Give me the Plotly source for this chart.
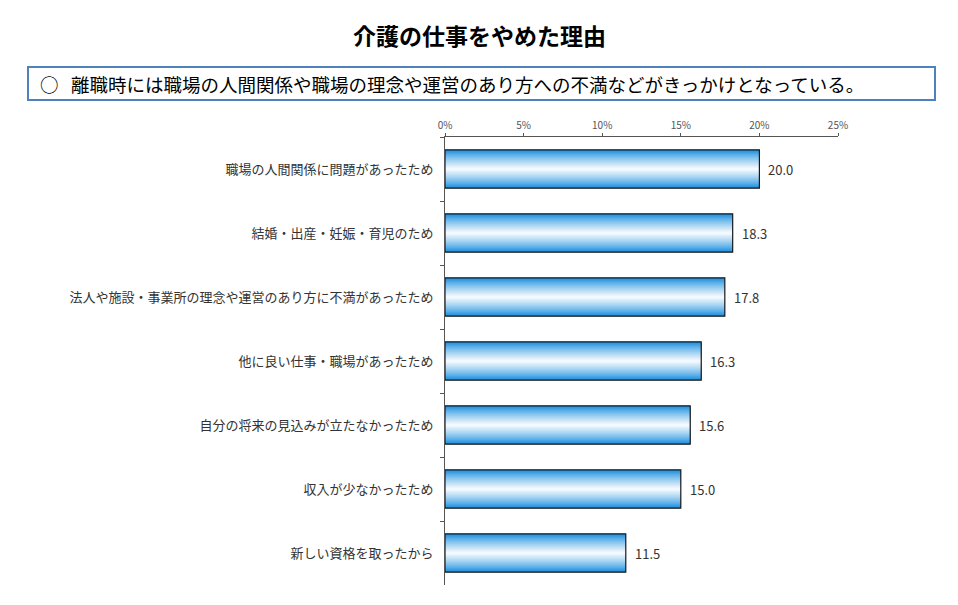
import plotly.graph_objects as go

categories = [
    "職場の人間関係に問題があったため",
    "結婚・出産・妊娠・育児のため",
    "法人や施設・事業所の理念や運営のあり方に不満があったため",
    "他に良い仕事・職場があったため",
    "自分の将来の見込みが立たなかったため",
    "収入が少なかったため",
    "新しい資格を取ったから",
]
values = [20.0, 18.3, 17.8, 16.3, 15.6, 15.0, 11.5]
x_ticks = [0, 5, 10, 15, 20, 25]
x_tick_labels = ["0%", "5%", "10%", "15%", "20%", "25%"]

title_text = "介護の仕事をやめた理由"
bullet_text = "○"
box_text = "離職時には職場の人間関係や職場の理念や運営のあり方への不満などがきっかけとなっている。"

OFF = 8  # page body margin
W, H = 958 - OFF, 605 - OFF
L, R, T, B = 445 - OFF, 958 - 838, 137 - OFF, 605 - 585
pw, ph = W - L - R, H - T - B


def px_x(px):
    return (px - OFF - L) / pw


def px_y(py):
    return 1 - (py - OFF - T) / ph


FONT = "Noto Sans CJK JP, Noto Sans, sans-serif"

fig = go.Figure()

blue = (20, 140, 222)
white = (255, 255, 255)
N = 16
base_w = 0.6
for k in range(N):
    t = k / N
    f = t ** 0.8
    c = tuple(int(round(blue[i] + (white[i] - blue[i]) * f)) for i in range(3))
    fig.add_trace(go.Bar(
        x=values, y=categories, orientation="h",
        width=base_w * (1 - t),
        marker=dict(color="rgb(%d,%d,%d)" % c, line=dict(width=0)),
        hoverinfo="skip", showlegend=False,
    ))

fig.add_trace(go.Bar(
    x=values, y=categories, orientation="h", width=base_w,
    marker=dict(color="rgba(0,0,0,0)", line=dict(color="#1a1a1a", width=1.2)),
    hoverinfo="skip", showlegend=False,
))

annotations = [
    dict(text="<b>" + title_text + "</b>", xref="paper", yref="paper",
         x=px_x(479), y=px_y(35), showarrow=False,
         font=dict(size=23, color="black", family=FONT),
         xanchor="center", yanchor="middle"),
    dict(text=bullet_text, xref="paper", yref="paper",
         x=px_x(38), y=px_y(84), showarrow=False,
         font=dict(size=18.5, color="black", family=FONT),
         xanchor="left", yanchor="middle"),
    dict(text=box_text, xref="paper", yref="paper",
         x=px_x(69), y=px_y(84), showarrow=False,
         font=dict(size=18.5, color="black", family=FONT),
         xanchor="left", yanchor="middle"),
]
for cat, v in zip(categories, values):
    annotations.append(dict(
        text=f"{v:.1f}", x=v, y=cat, xref="x", yref="y",
        xanchor="left", yanchor="middle", xshift=7, showarrow=False,
        font=dict(size=13, color="#333333", family=FONT),
    ))

fig.update_layout(
    width=W, height=H,
    margin=dict(l=L, r=R, t=T, b=B),
    barmode="overlay",
    plot_bgcolor="white", paper_bgcolor="white",
    font=dict(family=FONT, color="#333333"),
    xaxis=dict(
        side="top", range=[0, 25], tickvals=x_ticks, ticktext=x_tick_labels,
        showgrid=False, zeroline=False, showline=True, linecolor="#555555",
        linewidth=1, ticks="outside", ticklen=3, tickcolor="#555555",
        tickfont=dict(size=10, color="#555555", family=FONT),
        fixedrange=True,
    ),
    yaxis=dict(
        autorange="reversed", showgrid=False, zeroline=False, showline=True,
        linecolor="#555555", linewidth=1, ticks="outside", ticklen=4,
        tickson="boundaries", tickcolor="#555555",
        tickfont=dict(size=13, color="#333333", family=FONT),
        ticklabelstandoff=8,
    ),
    bargap=0.4,
    shapes=[dict(
        type="rect", xref="paper", yref="paper",
        x0=px_x(28), x1=px_x(935), y0=px_y(100), y1=px_y(67),
        line=dict(color="#4f81bd", width=2), fillcolor="white", layer="below",
    )],
    annotations=annotations,
)

fig.write_html("out.html")
